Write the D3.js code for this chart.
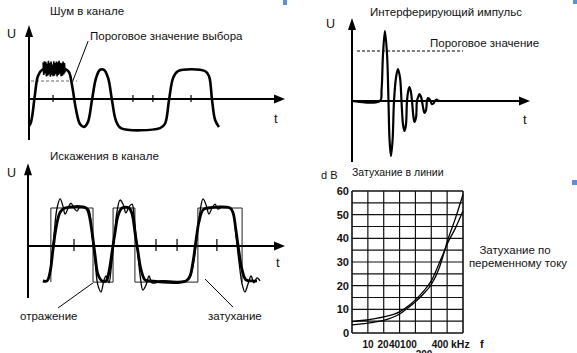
<!DOCTYPE html>
<html><head><meta charset="utf-8">
<script src="https://cdn.jsdelivr.net/npm/d3@7"></script>
<style>
body{margin:0;background:#fff}
svg{display:block}
text{font-family:"Liberation Sans",Arial,sans-serif;fill:#111}
</style></head>
<body><svg id="c" width="577" height="353"></svg>
<script>
// ---------- DATA ----------
// Panel 1: noise in channel (t, U)
const noiseWave = [[0,-0.9],[0.06,-0.82],[0.12,-0.6],[0.23,0.13],[0.35,0.77],[0.51,0.97],[0.74,1],[1.41,1],[1.56,0.9],[1.68,0.47],[1.84,-0.37],[1.99,-0.83],[2.15,-0.93],[2.3,-0.77],[2.46,-0.03],[2.62,0.7],[2.77,0.97],[2.93,0.97],[3.09,0.7],[3.24,-0.03],[3.4,-0.73],[3.59,-0.97],[5.12,-0.97],[5.31,-0.83],[5.47,-0.03],[5.63,0.7],[5.82,0.93],[6.88,0.93],[7.03,0.77],[7.15,-0.03],[7.27,-0.7],[7.42,-0.93]];
const noiseBurstSpan = [0.55, 1.41];
const noiseBurst = [0.22,-0.2,0.26,-0.15,0.24,-0.25,0.18,-0.22,0.27,-0.18,0.2,-0.26,0.25,-0.2,0.15,-0.24,0.26,-0.22,0.2,-0.17,0.25,-0.25,0.22,-0.2,0.27,-0.16,0.21,-0.24,0.19,-0.22,0.25,-0.18,0.2,-0.12];
const noiseTicks = [0.94, 4.06, 4.84, 6.33];
const noiseThreshold = {value:0.6, from:0.08, to:1.88};

// Panel 2: interfering pulse (t, U)
const pulseWave = [[0,0],[1.57,0],[1.66,0.22],[1.74,0.92],[1.85,1.4],[1.97,0.92],[2.05,0],[2.11,-0.78],[2.19,-1.1],[2.28,-0.78],[2.36,0],[2.47,0.46],[2.58,0.64],[2.7,0.46],[2.78,0],[2.87,-0.48],[2.95,-0.6],[3.03,-0.48],[3.09,0],[3.17,0.22],[3.23,0.28],[3.31,0.18],[3.37,0],[3.46,-0.34],[3.51,-0.42],[3.6,-0.32],[3.65,0],[3.74,0.1],[3.79,0.14],[3.88,0.08],[3.93,0],[4.02,-0.18],[4.07,-0.24],[4.16,-0.18],[4.21,0],[4.27,0.06],[4.35,0.04],[4.41,0],[4.49,-0.06],[4.58,-0.05],[4.66,0],[4.75,0.03],[4.83,0.01],[4.94,0]];
const pulseThreshold = {value:1, from:0.28, to:6.24};

// Panel 3: distortions in channel
const idealWave = [[0.89,-0.95],[0.89,1],[2.53,1],[2.53,-0.95],[3.31,-0.95],[3.31,1],[4.16,1],[4.16,-0.95],[6.61,-0.95],[6.61,1],[8.33,1],[8.33,-0.95]];
const attenWave = [[0.58,-0.92],[0.74,-0.92],[0.86,-0.68],[0.97,-0.11],[1.09,0.47],[1.25,0.89],[1.44,1],[2.26,1],[2.37,0.84],[2.49,0.37],[2.61,-0.24],[2.72,-0.74],[2.88,-0.92],[3.04,-0.92],[3.15,-0.68],[3.27,-0.16],[3.39,0.37],[3.5,0.79],[3.66,1],[3.93,1],[4.05,0.84],[4.16,0.37],[4.28,-0.16],[4.4,-0.63],[4.55,-0.89],[4.75,-0.92],[6.15,-0.92],[6.3,-0.79],[6.42,-0.42],[6.54,0.16],[6.65,0.63],[6.81,0.95],[7.0,1],[7.86,1],[7.98,0.87],[8.09,0.42],[8.21,-0.16],[8.33,-0.63],[8.48,-0.89],[8.72,-0.92],[8.91,-0.92]];
const reflectWave = [[0.58,-0.95],[0.78,-0.89],[0.89,-0.5],[1.01,0.29],[1.13,1.0],[1.25,1.24],[1.36,1.05],[1.44,0.84],[1.56,1.0],[1.67,1.13],[1.79,1.0],[1.91,0.92],[2.02,1.03],[2.26,1.0],[2.37,0.95],[2.49,0.29],[2.61,-0.42],[2.72,-1.03],[2.84,-1.21],[2.96,-0.89],[3.04,-0.79],[3.15,-0.97],[3.23,-0.63],[3.35,0.16],[3.46,0.89],[3.58,1.21],[3.7,1.1],[3.81,0.87],[3.93,1.03],[4.05,1.1],[4.12,0.82],[4.24,0.03],[4.36,-0.76],[4.47,-1.16],[4.59,-1.03],[4.71,-0.79],[4.82,-0.97],[4.98,-0.97],[5.14,-0.92],[6.15,-0.92],[6.3,-0.84],[6.46,-0.37],[6.58,0.29],[6.69,0.89],[6.81,1.24],[6.93,1.08],[7.04,0.84],[7.16,1.0],[7.28,1.1],[7.39,0.97],[7.55,1.03],[7.86,1.0],[7.98,0.89],[8.09,0.29],[8.21,-0.42],[8.33,-1.0],[8.44,-1.21],[8.56,-1.0],[8.68,-0.79],[8.79,-0.97],[8.91,-0.84],[9.03,-0.92]];
const distTicks = [1.79, 4.98, 5.8, 7.35];

// Panel 4: line attenuation (column index, dB)
const gridCols = [0,1,2,3,4,5,6,7];
const gridRowsDb = [0,5,10,15,20,25,30,35,40,45,50,55,60];
const dbTicks = [0,10,20,30,40,50,60];
const freqLabels = ["10","20","40","100","200","400"];
const freqLabelPos = [1.01,1.955,2.68,3.56,4.54,5.55];
const freqLabelRow = [0,0,0,0,1,0];
const lossA = [[0,3.4],[1,4.2],[2,5.3],[3,8.0],[3.5,10.5],[4,13.2],[4.5,16.5],[5,20.5],[5.5,27.5],[5.85,35],[6,38.5],[6.5,48],[7,58.5]];
const lossB = [[0,4.8],[1,5.6],[2,6.8],[3,8.9],[3.5,11.2],[4,14],[4.5,17.6],[5,22],[5.5,29.5],[5.85,35],[6,37.5],[6.5,44],[7,51.5]];

// ---------- DRAW ----------
const svg = d3.select("#c");
svg.append("rect").attr("width",577).attr("height",353).attr("fill","#fff");

function axes(g, xs, ys, xTip, yBot, yTip){
  const x0 = xs(0), y0 = ys(0);
  g.append("line").attr("x1",x0).attr("x2",xs(xTip)-6).attr("y1",y0).attr("y2",y0)
    .attr("stroke","#000").attr("stroke-width",2);
  g.append("line").attr("x1",x0).attr("x2",x0).attr("y1",ys(yBot)).attr("y2",ys(yTip)+6)
    .attr("stroke","#000").attr("stroke-width",2);
  const xt = xs(xTip), yt = ys(yTip);
  g.append("path").attr("d",`M${xt},${y0}L${xt-11},${y0-4.5}L${xt-11},${y0+4.5}Z`).attr("fill","#000");
  g.append("path").attr("d",`M${x0},${yt}L${x0-4},${yt+12}L${x0+4},${yt+12}Z`).attr("fill","#000");
}
function txt(x,y,s,size,opts={}){
  const t = svg.append("text").attr("x",x).attr("y",y).text(s).attr("font-size",size);
  if(opts.anchor) t.attr("text-anchor",opts.anchor);
  if(opts.weight) t.attr("font-weight",opts.weight);
  return t;
}
const smooth = d3.line().curve(d3.curveCatmullRom.alpha(0.5));

// Panel 1
{
  const xs = d3.scaleLinear([0,10],[29,285]);
  const ys = d3.scaleLinear([0,1],[99,69]);
  const g = svg.append("g");
  axes(g, xs, ys, 10, -1.37, 2.47);
  g.selectAll(".tk").data(noiseTicks).join("line")
    .attr("x1",d=>xs(d)).attr("x2",d=>xs(d)).attr("y1",ys(0)-4).attr("y2",ys(0)+3)
    .attr("stroke","#000").attr("stroke-width",1.2);
  g.append("line").attr("x1",xs(noiseThreshold.from)).attr("x2",xs(noiseThreshold.to))
    .attr("y1",ys(noiseThreshold.value)).attr("y2",ys(noiseThreshold.value))
    .attr("stroke","#666").attr("stroke-width",1).attr("stroke-dasharray","3,2");
  g.append("path").attr("d",smooth.x(d=>xs(d[0])).y(d=>ys(d[1]))(noiseWave))
    .attr("fill","none").attr("stroke","#000").attr("stroke-width",2.6);
  const bi = d3.scaleLinear([0,noiseBurst.length-1],noiseBurstSpan);
  g.append("path").attr("d",d3.line().x((d,i)=>xs(bi(i))).y(d=>ys(1+d))(noiseBurst))
    .attr("fill","none").attr("stroke","#000").attr("stroke-width",1.6);
  g.append("line").attr("x1",xs(2.31)).attr("y1",ys(1.93)).attr("x2",xs(1.72)).attr("y2",ys(0.62))
    .attr("stroke","#000").attr("stroke-width",1);
  txt(50,15,"Шум в канале",11.5);
  txt(90,40,"Пороговое значение выбора",11.5);
  txt(7,38,"U",12.5);
  txt(274,123,"t",13);
}

// Panel 2
{
  const xs = d3.scaleLinear([0,10],[352,530]);
  const ys = d3.scaleLinear([0,1],[101,51]);
  const g = svg.append("g");
  axes(g, xs, ys, 10, -1.22, 1.66);
  g.append("line").attr("x1",xs(pulseThreshold.from)).attr("x2",xs(pulseThreshold.to))
    .attr("y1",ys(pulseThreshold.value)).attr("y2",ys(pulseThreshold.value))
    .attr("stroke","#000").attr("stroke-width",1).attr("stroke-dasharray","3,2");
  g.append("path").attr("d",smooth.x(d=>xs(d[0])).y(d=>ys(d[1]))(pulseWave))
    .attr("fill","none").attr("stroke","#000").attr("stroke-width",2.2);
  txt(370,16,"Интерферирующий импульс",11.5);
  txt(430,47,"Пороговое значение",11.5);
  txt(326,28,"U",12.5);
  txt(523,124,"t",13);
}

// Panel 3
{
  const xs = d3.scaleLinear([0,10],[28,285]);
  const ys = d3.scaleLinear([0,1],[246,208]);
  const g = svg.append("g");
  axes(g, xs, ys, 10, -1.37, 2.18);
  g.selectAll(".tk").data(distTicks).join("line")
    .attr("x1",d=>xs(d)).attr("x2",d=>xs(d)).attr("y1",ys(0)-7).attr("y2",ys(0)+5)
    .attr("stroke","#000").attr("stroke-width",1.2);
  g.append("path").attr("d",d3.line().x(d=>xs(d[0])).y(d=>ys(d[1]))(idealWave))
    .attr("fill","none").attr("stroke","#222").attr("stroke-width",1);
  g.append("path").attr("d",smooth.x(d=>xs(d[0])).y(d=>ys(d[1]))(reflectWave))
    .attr("fill","none").attr("stroke","#000").attr("stroke-width",1.3);
  g.append("path").attr("d",smooth.x(d=>xs(d[0])).y(d=>ys(d[1]))(attenWave))
    .attr("fill","none").attr("stroke","#000").attr("stroke-width",2.8);
  g.append("line").attr("x1",xs(1.17)).attr("y1",ys(-1.63)).attr("x2",xs(2.53)).attr("y2",ys(-0.97))
    .attr("stroke","#000").attr("stroke-width",1);
  g.append("line").attr("x1",xs(6.89)).attr("y1",ys(-0.87)).attr("x2",xs(7.98)).attr("y2",ys(-1.61))
    .attr("stroke","#000").attr("stroke-width",1);
  txt(50,160,"Искажения в канале",11.5);
  txt(20,320,"отражение",11.5);
  txt(208,320,"затухание",11.5);
  txt(7,177,"U",12.5);
  txt(276,267,"t",13);
}

// Panel 4
{
  const xs = d3.scaleLinear([0,7],[352,463]);
  const ys = d3.scaleLinear([0,60],[333,191]);
  const g = svg.append("g");
  g.selectAll(".v").data(gridCols).join("line")
    .attr("x1",d=>xs(d)).attr("x2",d=>xs(d)).attr("y1",ys(0)).attr("y2",ys(60))
    .attr("stroke","#111").attr("stroke-width",d=>(d===0||d===7)?1.6:1.2);
  g.selectAll(".h").data(gridRowsDb).join("line")
    .attr("x1",xs(0)).attr("x2",xs(7)).attr("y1",d=>ys(d)).attr("y2",d=>ys(d))
    .attr("stroke","#111").attr("stroke-width",d=>(d===0||d===60)?1.6:1.2);
  const ln = d3.line().x(d=>xs(d[0])).y(d=>ys(d[1])).curve(d3.curveMonotoneX);
  g.append("path").attr("d",ln(lossA)).attr("fill","none").attr("stroke","#000").attr("stroke-width",1.3);
  g.append("path").attr("d",ln(lossB)).attr("fill","none").attr("stroke","#000").attr("stroke-width",1.3);
  dbTicks.forEach(d=>txt(349,ys(d)+4,String(d),11,{anchor:"end",weight:"bold"}));
  freqLabels.forEach((s,i)=>txt(xs(freqLabelPos[i]),348+freqLabelRow[i]*10,s,10,{anchor:"middle",weight:"bold"}));
  txt(451,348,"kHz",10.5,{weight:"bold"});
  txt(480,348,"f",11,{weight:"bold"});
  txt(321,179,"d B",11);
  txt(352,176,"Затухание в линии",10.5);
  txt(515,254,"Затухание по",11.5,{anchor:"middle"});
  txt(518,267,"переменному току",11.5,{anchor:"middle"});
}

// small blue anchor marks seen in the reference
[[283,0,4,5],[573,0,4,4],[572,180,5,5]].forEach(r=>svg.append("rect")
  .attr("x",r[0]).attr("y",r[1]).attr("width",r[2]).attr("height",r[3]).attr("fill","#5b8fd6"));
</script></body></html>
